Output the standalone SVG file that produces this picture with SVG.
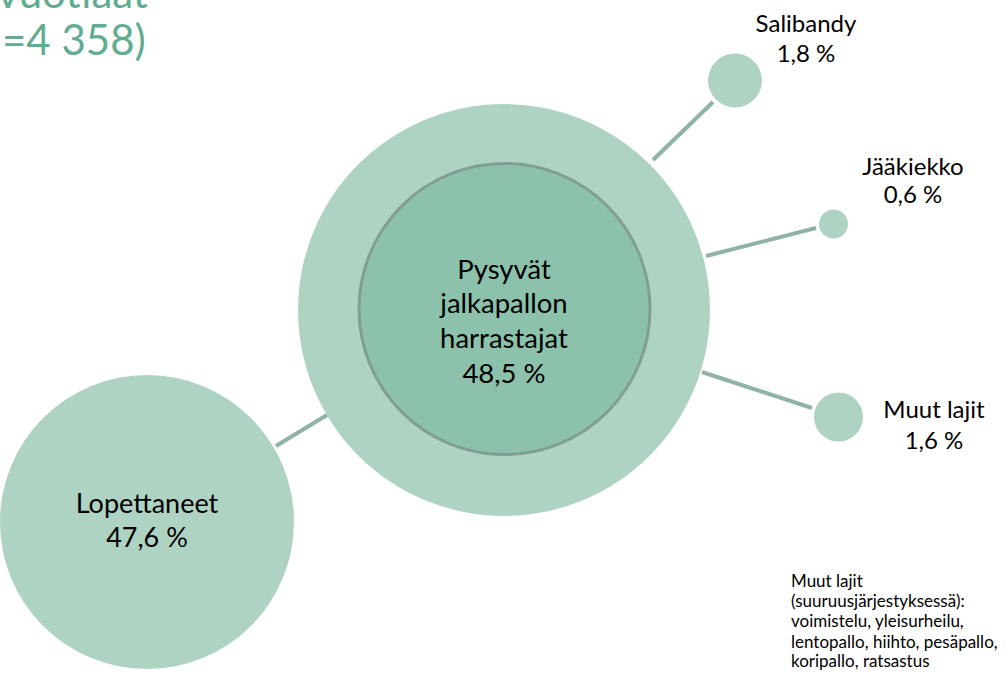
<svg xmlns="http://www.w3.org/2000/svg" width="1006" height="680" viewBox="0 0 1006 680">
<style>
.t{font-family:Lato,"Open Sans","Liberation Sans",sans-serif;fill:#000;text-anchor:middle}
.lt{fill:#afd3c3}
.cn{stroke:#8fb4a3;stroke-width:4;fill:none}
.title{font-family:Lato,"Open Sans","Liberation Sans",sans-serif;fill:#62ac91;font-size:42px}
.note{font-family:Lato,"Open Sans","Liberation Sans",sans-serif;fill:#000;font-size:17px}
</style>
<rect width="1006" height="680" fill="#fff"/>
<g id="title">
<text class="title" x="-3" y="8">vuotiaat</text>
<text class="title" x="2" y="55">=4 358)</text>
</g>
<g id="connectors">
<line class="cn" x1="653" y1="160" x2="713" y2="102"/>
<line class="cn" x1="706" y1="256" x2="816" y2="228"/>
<line class="cn" x1="702" y1="372" x2="812" y2="408"/>
<line class="cn" x1="276" y1="446" x2="327" y2="415"/>
</g>
<g id="pysyvat">
<circle class="lt" cx="504" cy="310" r="206"/>
<circle cx="504.5" cy="309" r="145.5" fill="#8cc2ab" stroke="#809f92" stroke-width="3"/>
<text class="t" font-size="27.5" x="504" y="279">Pysyvät</text>
<text class="t" font-size="27.5" x="504" y="313">jalkapallon</text>
<text class="t" font-size="27.5" x="504" y="348">harrastajat</text>
<text class="t" font-size="27.5" x="504" y="383">48,5 %</text>
</g>
<g id="lopettaneet">
<circle class="lt" cx="147" cy="522" r="147"/>
<text class="t" font-size="27" x="147" y="513">Lopettaneet</text>
<text class="t" font-size="27" x="147" y="547">47,6 %</text>
</g>
<g id="salibandy">
<circle class="lt" cx="735" cy="80.5" r="27"/>
<text class="t" font-size="24" x="806" y="32">Salibandy</text>
<text class="t" font-size="24" x="806" y="62">1,8 %</text>
</g>
<g id="jaakiekko">
<circle class="lt" cx="833.5" cy="224" r="14.5"/>
<text class="t" font-size="24" x="913" y="175">Jääkiekko</text>
<text class="t" font-size="24" x="913" y="203">0,6 %</text>
</g>
<g id="muut">
<circle class="lt" cx="838.5" cy="417" r="24.5"/>
<text class="t" font-size="24" x="934" y="418">Muut lajit</text>
<text class="t" font-size="24" x="934" y="449">1,6 %</text>
</g>
<g id="note">
<text class="note" x="791" y="587">Muut lajit</text>
<text class="note" x="791" y="607">(suuruusjärjestyksessä):</text>
<text class="note" x="791" y="627">voimistelu, yleisurheilu,</text>
<text class="note" x="791" y="648">lentopallo, hiihto, pesäpallo,</text>
<text class="note" x="791" y="667">koripallo, ratsastus</text>
</g>
</svg>
